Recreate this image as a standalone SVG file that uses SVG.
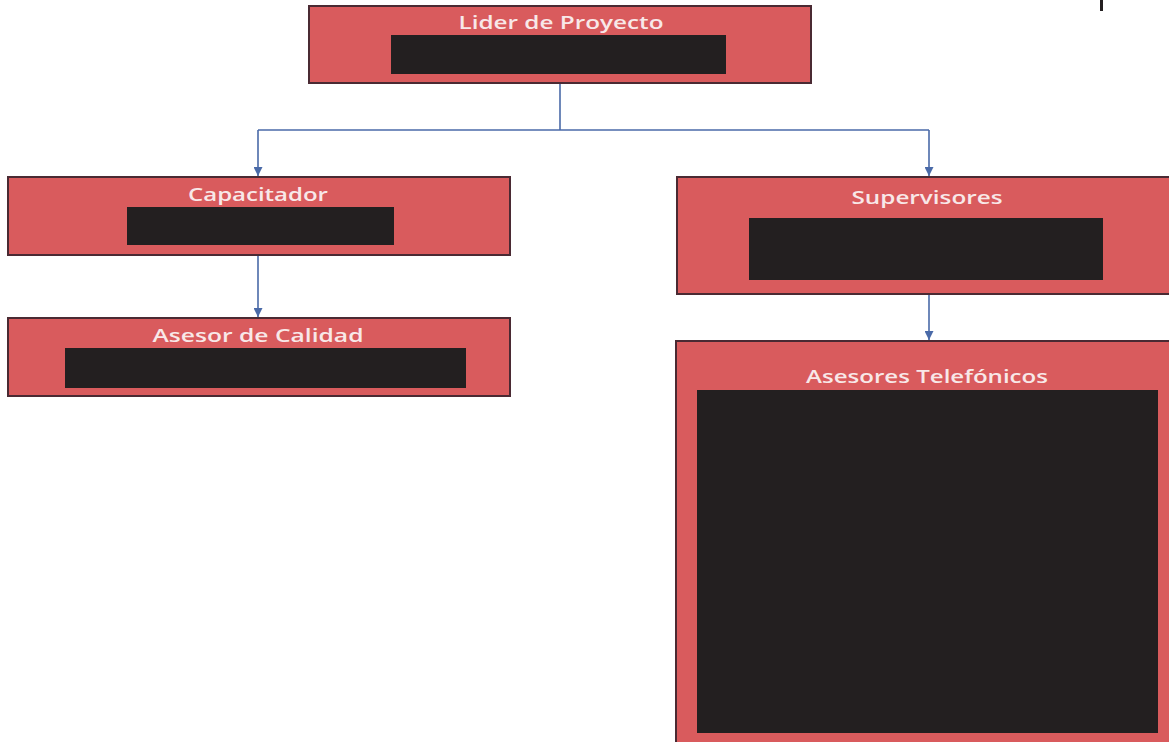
<svg xmlns="http://www.w3.org/2000/svg" width="1169" height="742" viewBox="0 0 1169 742">
<defs>
<style>
.box{fill:#d95b5d;stroke:#4a2a33;stroke-width:2}
.red{fill:#231f20}
.lbl{font-family:"Open Sans","Liberation Sans",sans-serif;font-size:18.5px;font-weight:600;fill:#f8e8e8;text-anchor:middle}
.con{fill:none;stroke:#4a6aa8;stroke-width:1.6}
</style>
<marker id="ah" viewBox="0 0 10 10" refX="10" refY="5" markerWidth="9" markerHeight="9" orient="auto" markerUnits="userSpaceOnUse">
<path d="M0,0 L10,5 L0,10 z" fill="#4a6aa8"/>
</marker>
</defs>
<rect width="1169" height="742" fill="#ffffff"/>
<rect x="1100" y="0" width="3" height="11" fill="#231f20"/>
<g id="connectors">
<path class="con" d="M560,84 V130"/>
<path class="con" d="M258,130 H929"/>
<path class="con" d="M258,130 V176" marker-end="url(#ah)"/>
<path class="con" d="M929,130 V176" marker-end="url(#ah)"/>
<path class="con" d="M258,256 V317" marker-end="url(#ah)"/>
<path class="con" d="M929,295 V340" marker-end="url(#ah)"/>
</g>
<g id="lider">
<rect class="box" x="309" y="6" width="502" height="77"/>
<text class="lbl" x="561" y="29" textLength="205" lengthAdjust="spacingAndGlyphs">Lider de Proyecto</text>
<rect class="red" x="391" y="35" width="335" height="39"/>
</g>
<g id="capacitador">
<rect class="box" x="8" y="177" width="502" height="78"/>
<text class="lbl" x="258" y="201" textLength="140" lengthAdjust="spacingAndGlyphs">Capacitador</text>
<rect class="red" x="127" y="207" width="267" height="38"/>
</g>
<g id="asesor-calidad">
<rect class="box" x="8" y="318" width="502" height="78"/>
<text class="lbl" x="258" y="342" textLength="211" lengthAdjust="spacingAndGlyphs">Asesor de Calidad</text>
<rect class="red" x="65" y="348" width="401" height="40"/>
</g>
<g id="supervisores">
<rect class="box" x="677" y="177" width="500" height="117"/>
<text class="lbl" x="927" y="204" textLength="151" lengthAdjust="spacingAndGlyphs">Supervisores</text>
<rect class="red" x="749" y="218" width="354" height="62"/>
</g>
<g id="asesores-telefonicos">
<rect class="box" x="676" y="341" width="501" height="410"/>
<text class="lbl" x="927" y="383" textLength="242" lengthAdjust="spacingAndGlyphs">Asesores Telefónicos</text>
<rect class="red" x="697" y="390" width="461" height="343"/>
</g>
</svg>
